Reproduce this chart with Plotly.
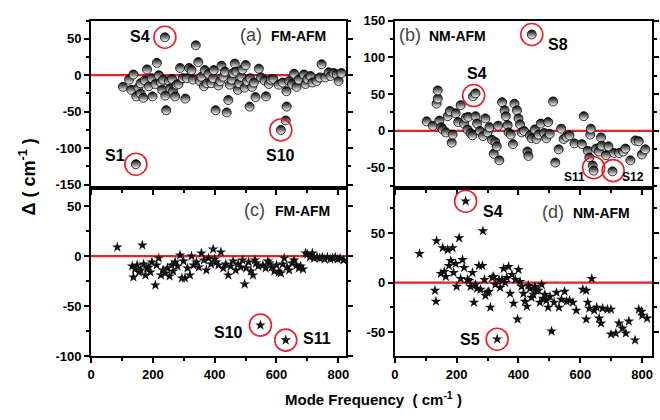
import plotly.graph_objects as go

# ---------------- data ----------------
a_freq = [103,123,130,137,146,153,160,160,169,174,181,187,196,199,208,213,219,226,230,233,239,240,243,252,256,262,265,272,277,283,288,297,305,310,317,325,330,339,347,352,357,365,368,375,380,389,395,397,403,412,418,422,428,433,439,444,449,455,460,465,470,475,479,486,490,497,500,505,513,515,521,527,532,543,550,561,566,575,582,590,607,614,620,630,633,632,641,650,657,665,672,689,694,700,710,716,730,740,746,758,769,775,785,795,801,810,145]
a_delta = [-16,-6,-20,1,-29,-17,-11,-25,-31,-7,8,-15,-4,-29,-12,17,0,-10,-20,-6,52,-28,-48,-8,-18,-5,-22,-29,-13,-12,10,-4,-32,-4,10,7,-6,41,18,-8,-2,-15,7,-11,2,-11,-4,7,-48,-14,-8,13,-2,5,-51,-34,-13,-6,3,16,5,-20,-11,-2,8,-17,14,-8,-43,-4,-16,-10,-30,9,-3,-7,-29,-12,-6,-5,-13,-75,-10,-62,-43,-22,-8,-12,2,-16,-6,1,-12,-5,-1,-10,-8,-3,15,-3,4,-1,3,1,-8,3,-122]

b_freq = [103,123,135,139,139,144,150,155,165,171,178,184,187,197,205,213,224,230,235,238,245,251,253,261,261,266,275,285,293,300,306,314,320,325,330,334,338,347,355,359,365,368,375,382,387,395,400,405,410,418,429,432,437,443,443,453,458,465,472,483,490,496,501,512,519,530,538,546,555,565,581,605,611,624,629,632,634,640,643,651,660,667,669,683,691,704,709,725,739,746,762,778,789,799,810]
b_delta = [13,7,37,44,55,14,5,2,-2,20,27,-16,-5,24,12,35,10,18,2,19,-3,-6,47,51,20,10,0,-7,17,-2,5,-12,-31,-15,-21,7,-40,39,28,20,8,-2,-5,-18,37,28,17,9,-2,0,-28,-34,-6,-10,131,2,-11,-5,10,-3,-10,12,-4,40,-43,-25,3,-11,-8,-6,-17,-18,20,-27,-36,-5,3,-47,-54,-24,-28,-9,-20,-33,-21,-55,-30,-30,-28,-24,-40,-13,-14,-32,-25]

c_freq = [85,133,137,142,149,155,160,166,170,176,181,187,192,197,208,212,219,226,233,240,247,254,261,266,272,280,288,294,299,304,312,320,325,332,341,349,357,365,373,380,388,395,400,405,412,420,428,436,444,452,460,468,476,484,490,497,502,510,517,524,530,534,541,548,556,565,572,577,585,593,600,608,614,620,625,630,634,641,650,657,665,672,678,686,694,700,708,716,722,731,740,748,756,765,774,782,790,798,806,817]
c_delta = [9,-10,-21,-13,-9,-16,-14,11,-8,-19,-12,-11,-16,-6,-29,-9,-2,-19,-14,-17,-12,-20,-9,-15,-6,-10,1,-22,-5,-22,-12,-19,0,-9,-6,-11,3,-4,-14,-2,-8,7,-3,-6,-9,4,-12,-8,-19,-10,-5,-14,-8,-11,-4,-28,-12,-6,-15,-19,-4,-7,-10,-69,-9,-12,-5,-7,-11,-15,-9,-16,-17,-8,-2,-84,-11,-14,-7,-4,-9,-12,-10,-13,3,2,-1,3,-2,-1,-2,-1,-3,-1,-3,-2,-1,-3,-2,-4]

d_freq = [80,130,133,135,149,155,160,165,171,175,181,187,190,197,200,208,213,219,224,229,235,240,245,251,256,261,266,272,277,283,285,290,293,299,304,309,315,320,325,331,337,341,347,352,357,362,368,373,379,384,390,397,400,405,410,416,421,427,432,437,442,448,453,458,464,469,475,480,485,490,496,502,507,515,523,531,539,549,556,565,576,587,608,619,619,624,629,637,645,653,661,667,672,688,699,699,715,725,736,747,757,777,789,798,800,816]
d_delta = [29,-8,-19,42,9,35,11,6,33,17,22,35,10,19,-4,45,4,23,15,82,3,2,-4,10,-20,-2,-6,17,-7,17,52,3,-13,-10,-9,-25,5,6,-2,-57,3,-5,3,14,0,5,16,-11,8,-21,3,-37,13,1,-4,-11,-19,-24,-3,-6,-15,-12,-4,-8,-8,-20,-2,-16,-12,-18,-25,-14,-49,-20,-10,-25,-17,-9,-19,-18,-20,-28,-7,-8,-37,-20,-26,4,-28,-25,-36,-41,-26,-27,-27,-52,-51,-41,-46,-51,-39,-58,-27,-29,-33,-36]

# highlighted states (red circles)
a_hl_label = ["S4", "S1", "S10"]
a_hl_freq = [239, 145, 614]
a_hl_delta = [52, -122, -75]
b_hl_label = ["S4", "S8", "S11", "S12"]
b_hl_freq = [255, 443, 643, 706]
b_hl_delta = [48, 131, -50, -54]
c_hl_label = ["S10", "S11"]
c_hl_freq = [548, 630]
c_hl_delta = [-69, -84]
d_hl_label = ["S4", "S5"]
d_hl_freq = [229, 331]
d_hl_delta = [82, -57]

x_ticks = [0, 200, 400, 600, 800]
a_yticks = [-150, -100, -50, 0, 50]
b_yticks = [-50, 0, 50, 100, 150]
c_yticks = [-100, -50, 0, 50]
d_yticks = [-50, 0, 50]

# ---------------- figure ----------------
W, H = 660, 420
def px_x(p): return p / W
def px_y(p): return 1 - p / H

fig = go.Figure()
RED = "#e8202a"
FONT = "Liberation Sans"

def add_panel(n, fx, dy, sym, hf, hd):
    xa = "x" if n == 1 else f"x{n}"
    ya = "y" if n == 1 else f"y{n}"
    if sym == "sphere":
        marker = dict(symbol="circle", size=9, color="black",
                      gradient=dict(type="vertical", color="white"),
                      line=dict(color="black", width=0.8))
    else:
        marker = dict(symbol="star", size=8, color="#111111", line=dict(width=0))
    fig.add_trace(go.Scatter(x=fx, y=dy, mode="markers", marker=marker,
                             xaxis=xa, yaxis=ya, showlegend=False, hoverinfo="skip"))
    fig.add_trace(go.Scatter(x=hf, y=hd, mode="markers",
                             marker=dict(symbol="circle-open", size=22,
                                         line=dict(color=RED, width=1.6), color=RED),
                             xaxis=xa, yaxis=ya, showlegend=False, hoverinfo="skip"))
    fig.add_shape(type="line", xref=f"{xa} domain", yref=ya, x0=0, x1=1, y0=0, y1=0,
                  line=dict(color=RED, width=2.2), layer="below")

add_panel(1, a_freq, a_delta, "sphere", a_hl_freq, a_hl_delta)
add_panel(2, b_freq, b_delta, "sphere", b_hl_freq, b_hl_delta)
add_panel(3, c_freq, c_delta, "star", c_hl_freq, c_hl_delta)
add_panel(4, d_freq, d_delta, "star", d_hl_freq, d_hl_delta)

xl = [px_x(88), px_x(346)]
xr = [px_x(395), px_x(655)]
yt = [px_y(188), px_y(14)]
yb = [px_y(362), px_y(188)]

tickfont = dict(family=FONT, size=13, color="black")
common = dict(showgrid=False, zeroline=False, showline=True, linecolor="black",
              linewidth=2, ticks="outside", ticklen=5, tickwidth=2, tickcolor="black",
              tickfont=tickfont)
minor = dict(ticks="outside", ticklen=3, tickwidth=1.5, tickcolor="black", showgrid=False)

def bold(vals):
    return [f"<b>{v}</b>" for v in vals]

def xaxis(dom, rng, labels, anchor):
    return dict(domain=dom, range=rng, tickvals=x_ticks, ticktext=bold(x_ticks),
                showticklabels=labels, mirror=True, anchor=anchor,
                minor=dict(dtick=100, **minor), **common)

def yaxis(dom, rng, vals, anchor):
    return dict(domain=dom, range=rng, tickvals=vals, ticktext=bold(vals), mirror="ticks",
                anchor=anchor, minor=dict(dtick=25, **minor), **common)

fig.update_layout(
    width=W, height=H, margin=dict(l=0, r=0, t=0, b=0),
    paper_bgcolor="white", plot_bgcolor="white",
    font=dict(family=FONT, color="black"),
    xaxis=xaxis(xl, [0, 826], False, "y"),
    yaxis=yaxis(yt, [-155, 75], a_yticks, "x"),
    xaxis2=xaxis(xr, [0, 832], False, "y2"),
    yaxis2=yaxis(yt, [-78, 150], b_yticks, "x2"),
    xaxis3=xaxis(xl, [0, 826], True, "y3"),
    yaxis3=yaxis(yb, [-100, 68], c_yticks, "x3"),
    xaxis4=xaxis(xr, [0, 832], True, "y4"),
    yaxis4=yaxis(yb, [-74, 95], d_yticks, "x4"),
)

ann = []
def lab(xa, ya, x, y, text, size=16):
    ann.append(dict(xref=xa, yref=ya, x=x, y=y, text=f"<b>{text}</b>", showarrow=False,
                    xanchor="center", yanchor="middle",
                    font=dict(family=FONT, size=size, color="black")))

# state labels
lab("x", "y", 157, 53, "S4"); lab("x", "y", 77, -110, "S1"); lab("x", "y", 614, -110, "S10")
lab("x2", "y2", 266, 78, "S4"); lab("x2", "y2", 528, 117, "S8")
lab("x2", "y2", 582, -62, "S11", 12); lab("x2", "y2", 771, -63, "S12", 12)
lab("x3", "y3", 445, -76, "S10"); lab("x3", "y3", 730, -82, "S11")
lab("x4", "y4", 317, 72, "S4"); lab("x4", "y4", 243, -57, "S5")

# panel titles
def title(px_l, py, letter, name):
    ann.append(dict(xref="paper", yref="paper", x=px_x(px_l), y=px_y(py), xanchor="left",
                    yanchor="middle", text=f"({letter})", showarrow=False,
                    font=dict(family=FONT, size=18, color="#444444")))
    ann.append(dict(xref="paper", yref="paper", x=px_x(px_l + 31), y=px_y(py + 1), xanchor="left",
                    yanchor="middle", text=f"<b>{name}</b>", showarrow=False,
                    font=dict(family=FONT, size=14, color="black")))

title(237, 29, "a", "FM-AFM")
title(397, 29, "b", "NM-AFM")
title(241, 211, "c", "FM-AFM")
title(542, 213, "d", "NM-AFM")

# axis titles
ann.append(dict(xref="paper", yref="paper", x=px_x(24), y=px_y(176), textangle=-90,
                xanchor="center", yanchor="middle",
                text="<b>Δ ( cm<sup>-1</sup> )</b>", showarrow=False,
                font=dict(family=FONT, size=18, color="black")))
ann.append(dict(xref="paper", yref="paper", x=px_x(373), y=px_y(406),
                xanchor="center", yanchor="middle",
                text="<b>Mode Frequency  ( cm<sup>-1</sup> )</b>", showarrow=False,
                font=dict(family=FONT, size=15, color="black")))

fig.update_layout(annotations=ann)
fig.write_html("out.html", config={"displayModeBar": False},
               post_script="document.body.style.margin='0';document.body.style.overflow='hidden';")
